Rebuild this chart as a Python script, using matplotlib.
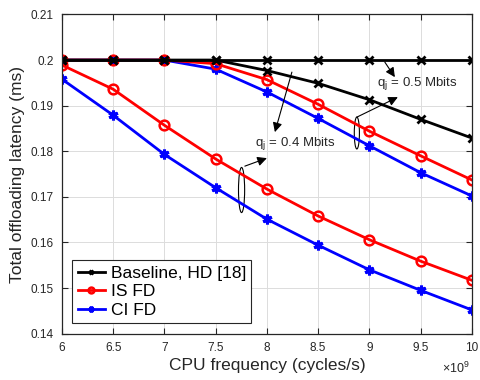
import matplotlib
matplotlib.use("Agg")
import matplotlib.pyplot as plt
from matplotlib.patches import Ellipse
import numpy as np

plt.rcParams['font.family'] = ['Liberation Sans', 'DejaVu Sans']
plt.rcParams['mathtext.fontset'] = 'custom'
plt.rcParams['mathtext.rm'] = 'Liberation Sans'

#========================================================================================
freq = [6, 6.5, 7, 7.5, 8, 8.5, 9, 9.5, 10]   # x 10^9 cycles/s

# q_j = 0.4 Mbits
base_04 = [0.2, 0.2, 0.2, 0.2, 0.2, 0.2, 0.2, 0.2, 0.2]
is_04 = [0.1989, 0.1936, 0.1857, 0.1783, 0.1717, 0.1658, 0.1606, 0.1559, 0.1517]
ci_04 = [0.1958, 0.1879, 0.1793, 0.1720, 0.1651, 0.1594, 0.1540, 0.1495, 0.1452]

# q_j = 0.5 Mbits
base_05 = [0.2, 0.2, 0.2, 0.2, 0.1977, 0.1949, 0.1913, 0.1870, 0.1829]
is_05 = [0.2, 0.2, 0.2, 0.1992, 0.1957, 0.1903, 0.1844, 0.1790, 0.1737]
ci_05 = [0.2, 0.2, 0.2, 0.1980, 0.1930, 0.1872, 0.1812, 0.1753, 0.1702]

xticks = [6, 6.5, 7, 7.5, 8, 8.5, 9, 9.5, 10]
yticks = [0.14, 0.15, 0.16, 0.17, 0.18, 0.19, 0.2, 0.21]
#========================================================================================

fig = plt.figure(figsize=(4.8, 3.8), dpi=100)
ax = fig.add_axes([0.129, 0.122, 0.854, 0.840])

dark = '#262626'
lw = 2.0
ast = (6, 2, 0)

# draw lower-latency lines first so black stays on top along 0.2
ax.plot(freq, ci_04, '-', color='b', lw=lw, marker=ast, ms=7, mew=2.2, label='CI FD')
ax.plot(freq, is_04, '-', color='r', lw=lw, marker='o', ms=7, mfc='none', mew=1.8, label='IS FD')
ax.plot(freq, ci_05, '-', color='b', lw=lw, marker=ast, ms=7, mew=2.2)
ax.plot(freq, is_05, '-', color='r', lw=lw, marker='o', ms=7, mfc='none', mew=1.8)
ax.plot(freq, base_05, '-', color='k', lw=lw, marker='x', ms=6, mew=2)
ax.plot(freq, base_04, '-', color='k', lw=lw, marker='x', ms=6, mew=2, label='Baseline, HD [18]')

ax.set_xlim(6, 10)
ax.set_ylim(0.14, 0.21)
ax.set_xticks(xticks)
ax.set_yticks(yticks)
ax.set_xticklabels(['%g' % v for v in xticks])
ax.set_yticklabels(['%g' % v for v in yticks])
ax.tick_params(direction='in', top=True, right=True, labelsize=8.5, colors=dark,
               length=4, width=0.8, pad=6)
for s in ax.spines.values():
    s.set_color(dark)
    s.set_linewidth(0.9)
ax.grid(True, color='#dcdcdc', lw=0.7)
ax.set_axisbelow(True)

ax.set_xlabel('CPU frequency (cycles/s)', fontsize=12.5, color=dark, labelpad=3)
ax.set_ylabel('Total offloading latency (ms)', fontsize=12.5, color=dark, labelpad=4)
ax.text(0.995, -0.11, r'$\times\mathregular{10^9}$', transform=ax.transAxes,
        ha='right', va='center', fontsize=9, color=dark)

# legend order as in the reference
h, l = ax.get_legend_handles_labels()
order = [2, 1, 0]
leg = ax.legend([h[i] for i in order], [l[i] for i in order], loc='lower left',
                fontsize=12.5, fancybox=False, edgecolor=dark, framealpha=1,
                handlelength=1.6, handletextpad=0.3, borderpad=0.3,
                labelspacing=0.2, borderaxespad=0.6, markerscale=0.6)
leg.get_frame().set_linewidth(0.8)

# annotations
ax.add_patch(Ellipse((7.753, 0.1715), 0.06, 0.0099, fill=False, ec='k', lw=0.8))
ax.add_patch(Ellipse((8.878, 0.1840), 0.05, 0.0070, fill=False, ec='k', lw=0.8))
ap = dict(arrowstyle='-|>', color='k', lw=0.8, mutation_scale=14, shrinkA=0, shrinkB=0)
ax.annotate('', xy=(9.249, 0.19625), xytext=(9.151, 0.19954), arrowprops=ap)
ax.annotate('', xy=(9.278, 0.19186), xytext=(8.878, 0.18748), arrowprops=ap)
ax.annotate('', xy=(8.078, 0.18419), xytext=(8.244, 0.19735), arrowprops=ap)
ax.annotate('', xy=(8.0, 0.17849), xytext=(7.785, 0.17673), arrowprops=ap)
ax.text(9.073, 0.1949, r'q$_\mathregular{j}$ = 0.5 Mbits', fontsize=9.5, color=dark,
        ha='left', va='center')
ax.text(7.883, 0.1818, r'q$_\mathregular{j}$ = 0.4 Mbits', fontsize=9.5, color=dark,
        ha='left', va='center')

fig.savefig('out.png', dpi=100)
